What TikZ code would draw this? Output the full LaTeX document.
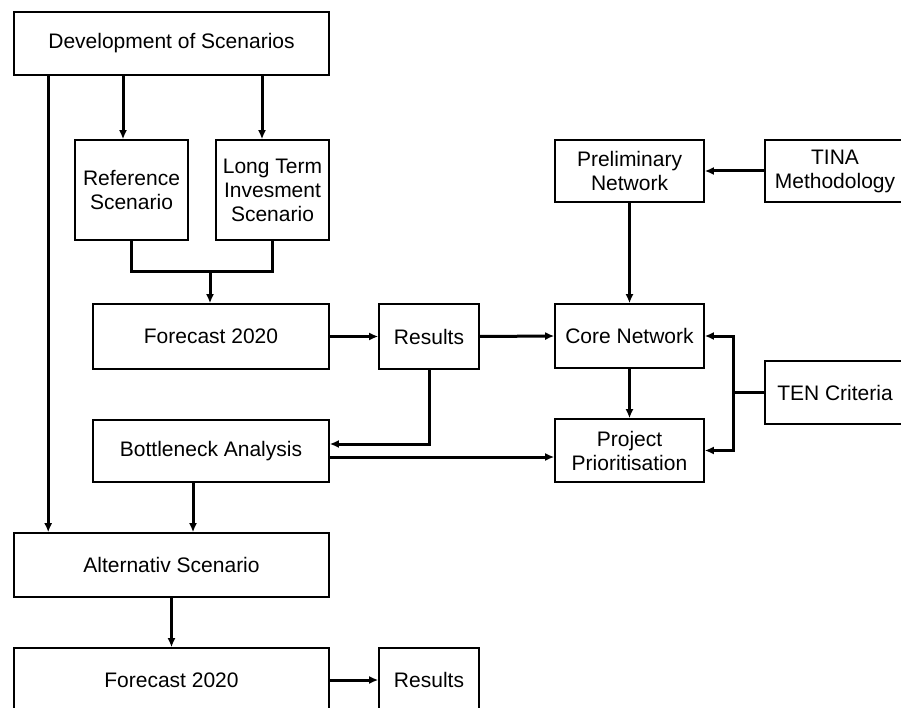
\documentclass[tikz,border=0pt]{standalone}
\usepackage{fontspec}
\setmainfont{Liberation Sans}
\usetikzlibrary{arrows.meta}
\begin{document}
\begin{tikzpicture}[x=1pt,y=-1pt,
    box/.style={draw,line width=1.6pt,inner sep=2pt,align=center,font=\fontsize{21}{24}\selectfont},
    conn/.style={line width=3pt,-{Latex[length=9pt,width=8pt]}},
    link/.style={line width=3pt}]
    \useasboundingbox (0,0) rectangle (901,708);
    \node[box,minimum width=315pt,minimum height=63pt] (dev) at (171.5,43.5) {Development of Scenarios};
    \node[box,minimum width=113pt,minimum height=100pt] (ref) at (131.5,190) {Reference\\Scenario};
    \node[box,minimum width=113pt,minimum height=100pt] (lti) at (272.5,190) {Long Term\\Invesment\\Scenario};
    \node[box,minimum width=236pt,minimum height=65pt] (fca) at (211,336.5) {Forecast 2020};
    \node[box,minimum width=100pt,minimum height=65pt] (resa) at (429,336.5) {Results};
    \node[box,minimum width=236pt,minimum height=62pt] (bna) at (211,451) {Bottleneck Analysis};
    \node[box,minimum width=149pt,minimum height=62pt] (prel) at (629.5,171) {Preliminary\\Network};
    \node[box,minimum width=140pt,minimum height=62pt] (tina) at (835,171) {TINA\\Methodology};
    \node[box,minimum width=149pt,minimum height=64pt] (core) at (629.5,336) {Core Network};
    \node[box,minimum width=140pt,minimum height=63pt] (ten) at (835,392.5) {TEN Criteria};
    \node[box,minimum width=149pt,minimum height=63pt] (proj) at (629.5,450.5) {Project\\Prioritisation};
    \node[box,minimum width=315pt,minimum height=64pt] (alt) at (171.5,565) {Alternativ Scenario};
    \node[box,minimum width=315pt,minimum height=64pt] (fcb) at (171.5,680) {Forecast 2020};
    \node[box,minimum width=100pt,minimum height=64pt] (resb) at (429,680) {Results};
    \coordinate (refin) at ([xshift=-8.5pt]ref.north);
    \coordinate (ltiin) at ([xshift=-10.5pt]lti.north);
    \coordinate (joint) at (210,272);
    \coordinate (bnaout) at ([yshift=-6pt]bna.east);
    \coordinate (bnaalt) at ([xshift=-18pt]bna.south);
    \coordinate (tenjoint) at (733,392.5);
    \draw[conn] ([xshift=35pt]dev.south west) -- ([xshift=35pt]alt.north west);
    \draw[conn] (refin |- dev.south) -- (refin);
    \draw[conn] (ltiin |- dev.south) -- (ltiin);
    \draw[link] (ref.south) |- (joint) -| (lti.south);
    \draw[conn] (joint) -- (joint |- fca.north);
    \draw[conn] (fca.east) -- (resa.west);
    \draw[conn] (resa.east) -- (core.west);
    \draw[conn] (resa.south) |- ([yshift=7pt]bna.east);
    \draw[conn] (bnaout) -- (bnaout -| proj.west);
    \draw[conn] (tina.west) -- (prel.east);
    \draw[conn] (prel.south) -- (core.north);
    \draw[conn] (core.south) -- (proj.north);
    \draw[link] (ten.west) -- (tenjoint);
    \draw[conn] (tenjoint) |- (core.east);
    \draw[conn] (tenjoint) |- (proj.east);
    \draw[conn] (bnaalt) -- (bnaalt |- alt.north);
    \draw[conn] (alt.south) -- (fcb.north);
    \draw[conn] (fcb.east) -- (resb.west);
\end{tikzpicture}
\end{document}
